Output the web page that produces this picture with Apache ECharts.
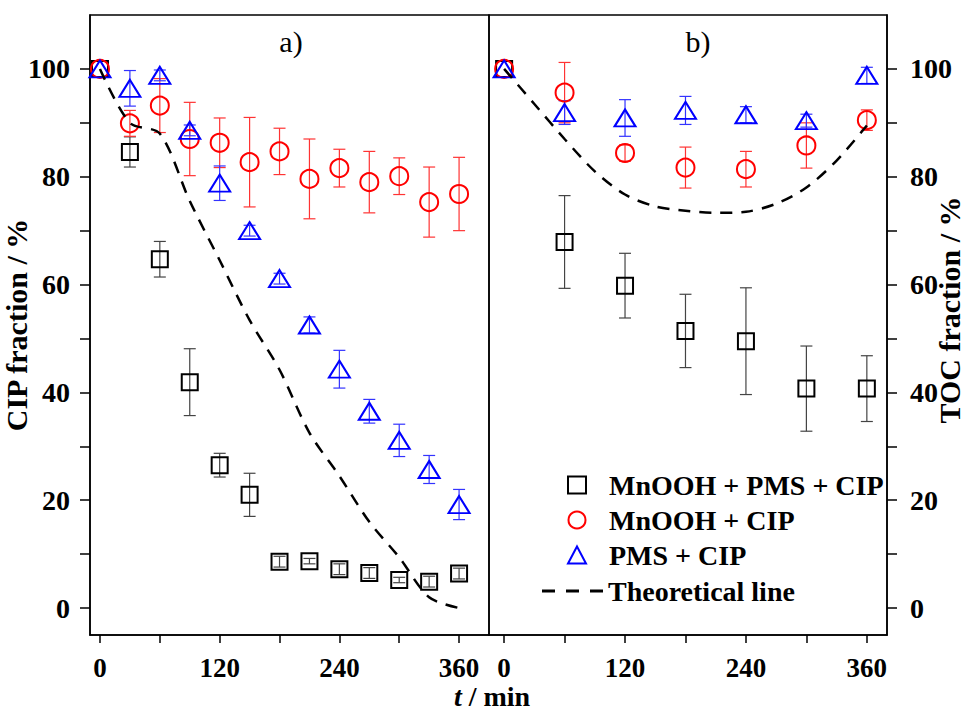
<!DOCTYPE html>
<html>
<head>
<meta charset="utf-8">
<script src="https://cdn.jsdelivr.net/npm/echarts@6/dist/echarts.min.js"></script>
<style>html,body{margin:0;padding:0;background:#fff;}#chart{width:968px;height:711px;}</style>
</head>
<body>
<div id="chart"></div>
<script>
// ---- data ----
const timeCIP = [0, 30, 60, 90, 120, 150, 180, 210, 240, 270, 300, 330, 360];
const timeTOC = [0, 60, 120, 180, 240, 300, 360];
const markerNames = ['MnOOH + PMS + CIP', 'MnOOH + CIP', 'PMS + CIP'];
const lineName = 'Theoretical line';

// panel a) CIP fraction (%)
const cipMnPms    = [100, 84.6, 64.7, 41.9, 26.5, 21.0, 8.6, 8.7, 7.2, 6.5, 5.2, 4.9, 6.4];
const cipMnPmsErr = [0, 2.8, 3.3, 6.2, 2.2, 4.0, 1.0, 0.5, 1.0, 1.0, 0.5, 1.0, 1.0];
const cipMn       = [100, 89.9, 93.2, 87.0, 86.3, 82.7, 84.7, 79.6, 81.6, 79.0, 80.1, 75.3, 76.8];
const cipMnErr    = [0, 2.4, 5.0, 6.8, 4.6, 8.3, 4.3, 7.4, 3.5, 5.7, 3.4, 6.5, 6.8];
const cipPms      = [100, 96.4, 98.8, 88.6, 78.8, 70.0, 61.1, 52.5, 44.3, 36.5, 31.1, 25.7, 19.2];
const cipPmsErr   = [0, 3.3, 1.0, 1.0, 3.2, 1.0, 1.0, 1.5, 3.5, 2.2, 3.0, 2.6, 2.8];
const cipTheory   = [100, 90, 88, 75.5, 64.5, 53.4, 44.2, 32.5, 24.5, 16, 9.4, 2, 0];

// panel b) TOC fraction (%)
const tocMnPms    = [100, 67.9, 59.8, 51.4, 49.5, 40.7, 40.7];
const tocMnPmsErr = [0, 8.6, 6.0, 6.8, 9.9, 7.9, 6.1];
const tocMn       = [100, 95.6, 84.4, 81.7, 81.4, 85.8, 90.5];
const tocMnErr    = [0, 5.6, 1.5, 3.8, 3.3, 4.2, 1.9];
const tocPms      = [100, 91.9, 90.9, 92.3, 91.5, 90.4, 98.8];
const tocPmsErr   = [0, 2.2, 3.4, 2.6, 1.5, 1.2, 1.5];
const tocTheory   = [100, 93.5, 87, 81, 76.7, 74.5, 73.7, 73.3, 73.5, 75, 78, 83, 89.5];

const xTicks = [0, 60, 120, 180, 240, 300, 360];
const xLabels = [0, 120, 240, 360];
const yTicks = [0, 10, 20, 30, 40, 50, 60, 70, 80, 90, 100];
const yLabels = [0, 20, 40, 60, 80, 100];

// ---- helpers ----
const FONT = '"Liberation Serif", "Times New Roman", serif';
function pts(xs, ys) { return xs.map((x, i) => [x, ys[i]]); }
function errPts(xs, ys, es) {
  const out = [];
  xs.forEach((x, i) => { if (es[i] > 0) out.push([x, ys[i] - es[i], ys[i] + es[i]]); });
  return out;
}
function errRender(color) {
  return function (params, api) {
    const x = api.value(0), lo = api.value(1), hi = api.value(2);
    const pHi = api.coord([x, hi]), pLo = api.coord([x, lo]);
    const w = 6;
    const style = { stroke: color, lineWidth: 1.2 };
    return {
      type: 'group',
      children: [
        { type: 'line', shape: { x1: pHi[0], y1: pHi[1], x2: pLo[0], y2: pLo[1] }, style },
        { type: 'line', shape: { x1: pHi[0] - w, y1: pHi[1], x2: pHi[0] + w, y2: pHi[1] }, style },
        { type: 'line', shape: { x1: pLo[0] - w, y1: pLo[1], x2: pLo[0] + w, y2: pLo[1] }, style }
      ]
    };
  };
}
function errSeries(idx, data, color) {
  return { type: 'custom', xAxisIndex: idx, yAxisIndex: idx, renderItem: errRender(color),
    data: data, z: 2, silent: true, encode: { x: 0, y: [1, 2] } };
}
function scatter(name, idx, data, symbol, size, color) {
  return { name, type: 'scatter', xAxisIndex: idx, yAxisIndex: idx, data, symbol, symbolSize: size,
    symbolKeepAspect: false,
    itemStyle: { color: 'rgba(0,0,0,0)', borderColor: color, borderWidth: 2, opacity: 1 }, z: 3 };
}
function theory(idx, xs, ys) {
  return { name: lineName, type: 'line', xAxisIndex: idx, yAxisIndex: idx, data: pts(xs, ys),
    symbol: 'none', smooth: 0.3, lineStyle: { color: '#000', width: 2.5, type: [12, 9] },
    itemStyle: { color: '#000' }, z: 4 };
}
function xAxis(idx, min, max) {
  return {
    type: 'value', gridIndex: idx, min, max, position: 'bottom',
    axisLine: { show: true, onZero: false, lineStyle: { color: '#000', width: 1.5 } },
    axisTick: { show: true, inside: false, length: 8, customValues: xTicks, lineStyle: { color: '#000', width: 1.5 } },
    axisLabel: { customValues: xLabels, margin: 19, color: '#000', fontFamily: FONT, fontWeight: 'bold', fontSize: 27 },
    splitLine: { show: false }
  };
}
function yAxis(idx, pos, name, margin, gap, padding) {
  return {
    type: 'value', gridIndex: idx, min: -5, max: 110, position: pos,
    axisLine: { show: true, onZero: false, lineStyle: { color: '#000', width: 1.5 } },
    axisTick: { show: true, inside: false, length: 10, customValues: yTicks, lineStyle: { color: '#000', width: 1.5 } },
    axisLabel: { customValues: yLabels, margin, color: '#000', fontFamily: FONT, fontWeight: 'bold', fontSize: 28 },
    splitLine: { show: false },
    name, nameLocation: 'middle', nameRotate: 90, nameGap: gap, nameMoveOverlap: false,
    nameTextStyle: { color: '#000', fontFamily: FONT, fontWeight: 'bold', fontSize: 30, padding }
  };
}
const legendText = { color: '#000', fontFamily: FONT, fontWeight: 'bold', fontSize: 28 };

const chart = echarts.init(document.getElementById('chart'), null, { renderer: 'svg' });
chart.setOption({
  backgroundColor: '#fff',
  animation: false,
  grid: [
    { left: 90, top: 15, width: 399, height: 620, show: true, borderColor: '#000', borderWidth: 1.5,
      outerBoundsMode: 'none', containLabel: false },
    { left: 489, top: 15, width: 398, height: 620, show: true, borderColor: '#000', borderWidth: 1.5,
      outerBoundsMode: 'none', containLabel: false }
  ],
  xAxis: [xAxis(0, -10, 390), xAxis(1, -15, 380)],
  yAxis: [yAxis(0, 'left', 'CIP fraction / %', 20, 59, 0), yAxis(1, 'right', 'TOC fraction / %', 23, 47, [0, 0, 0, 30])],
  legend: [
    {
      data: markerNames, orient: 'vertical', left: 567, top: 471, padding: 0,
      itemWidth: 18, itemHeight: 17, itemGap: 7, selectedMode: false, symbolKeepAspect: true,
      textStyle: Object.assign({ padding: [0, 0, 0, 18] }, legendText)
    },
    {
      data: [{ name: lineName, icon: 'path://M0,0h13v3h-13zM24,0h13v3h-13zM48,0h13v3h-13z' }],
      orient: 'vertical', left: 542, top: 577, padding: 0,
      itemWidth: 61, itemHeight: 17, selectedMode: false, symbolKeepAspect: true,
      textStyle: legendText
    }
  ],
  graphic: [
    { type: 'text', x: 291, y: 41, style: { text: 'a)', align: 'center', verticalAlign: 'middle',
      font: '30px "Liberation Serif"', fill: '#000' } },
    { type: 'text', x: 698, y: 41, style: { text: 'b)', align: 'center', verticalAlign: 'middle',
      font: '30px "Liberation Serif"', fill: '#000' } },
    { type: 'text', x: 492, y: 696, style: { text: '{i|t}{n| / min}', align: 'center', verticalAlign: 'middle', fill: '#000',
      rich: {
        i: { fontFamily: FONT, fontStyle: 'italic', fontWeight: 'bold', fontSize: 28, fill: '#000' },
        n: { fontFamily: FONT, fontWeight: 'bold', fontSize: 28, fill: '#000' }
      } } }
  ],
  series: [
    errSeries(0, errPts(timeCIP, cipMnPms, cipMnPmsErr), '#444'),
    errSeries(0, errPts(timeCIP, cipMn, cipMnErr), '#ff3333'),
    errSeries(0, errPts(timeCIP, cipPms, cipPmsErr), '#3333ff'),
    errSeries(1, errPts(timeTOC, tocMnPms, tocMnPmsErr), '#444'),
    errSeries(1, errPts(timeTOC, tocMn, tocMnErr), '#ff3333'),
    errSeries(1, errPts(timeTOC, tocPms, tocPmsErr), '#3333ff'),
    scatter(markerNames[0], 0, pts(timeCIP, cipMnPms), 'rect', 16, '#000'),
    scatter(markerNames[1], 0, pts(timeCIP, cipMn), 'circle', 18, '#ff0000'),
    scatter(markerNames[2], 0, pts(timeCIP, cipPms), 'triangle', [21, 17], '#0000ff'),
    theory(0, timeCIP, cipTheory),
    scatter(markerNames[0], 1, pts(timeTOC, tocMnPms), 'rect', 16, '#000'),
    scatter(markerNames[1], 1, pts(timeTOC, tocMn), 'circle', 18, '#ff0000'),
    scatter(markerNames[2], 1, pts(timeTOC, tocPms), 'triangle', [21, 17], '#0000ff'),
    theory(1, timeCIP, tocTheory)
  ]
});
</script>
</body>
</html>
